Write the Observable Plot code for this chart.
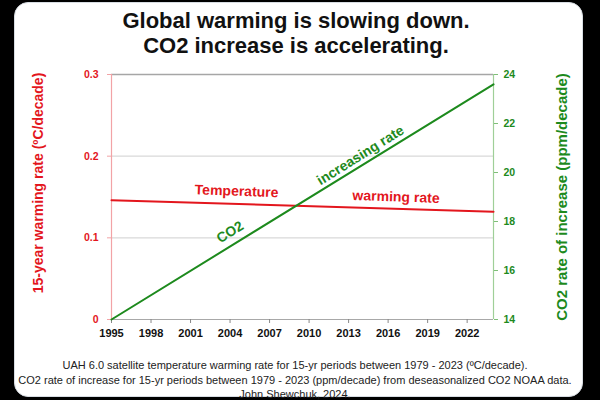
<!DOCTYPE html>
<html><head><meta charset="utf-8">
<script src="https://cdn.jsdelivr.net/npm/d3@7"></script>
<script src="https://cdn.jsdelivr.net/npm/@observablehq/plot@0.6"></script>
<style>
body{margin:0;background:#000;}
#wrap{position:relative;width:600px;height:400px;overflow:hidden;background:#000;font-family:"Liberation Sans",Arial,sans-serif;}
#card{position:absolute;left:14px;top:2px;width:567px;height:393px;background:#fff;border:1px solid #d8dde3;border-radius:14px;}
#title{position:absolute;left:-4px;width:600px;top:8px;text-align:center;font-size:22px;font-weight:bold;line-height:25px;color:#111;}
#chart{position:absolute;left:0;top:0;}
#caption{position:absolute;left:-5px;width:600px;top:358px;text-align:center;font-size:11px;line-height:14.5px;color:#222;white-space:nowrap;}
</style></head>
<body><div id="wrap"><div id="card"></div><div id="chart"></div>
<div id="title">Global warming is slowing down.<br>CO2 increase is accelerating.</div>
<div id="caption">UAH 6.0 satellite temperature warming rate for 15-yr periods between 1979 - 2023 (ºC/decade).<br>CO2 rate of increase for 15-yr periods between 1979 - 2023 (ppm/decade) from deseasonalized CO2 NOAA data.<br>John Shewchuk, 2024.</div>
</div>
<script>
const years = [1995, 2024];
const tempRate = [0.146, 0.132];
const co2Rate = [14.0, 23.6];
const xTicks = [1995, 1998, 2001, 2004, 2007, 2010, 2013, 2016, 2019, 2022];
const tempTicks = [0, 0.1, 0.2, 0.3];
const co2Ticks = [14, 16, 18, 20, 22, 24];
const leftTitle = "15-year warming rate (ºC/decade)";
const rightTitle = "CO2 rate of increase (ppm/decade)";

const RED = "#e3161d", GREEN = "#1d8a1d";
const co2Min = 14, co2Max = 24, tMax = 0.3;
const toY = c => (c - co2Min) / (co2Max - co2Min) * tMax;
const rows = years.map((y, i) => ({year: y, temp: tempRate[i], co2: toY(co2Rate[i])}));

const chart = Plot.plot({
  width: 600, height: 400,
  marginLeft: 111, marginRight: 107, marginTop: 74, marginBottom: 81,
  style: {fontFamily: "'Liberation Sans', Arial, sans-serif", background: "transparent"},
  x: {domain: [1995, 2024]},
  y: {domain: [0, 0.3]},
  marks: [
    Plot.ruleY([0.1, 0.2], {stroke: "#d9d9d9", strokeWidth: 1.2}),
    Plot.ruleY([0.3], {stroke: "#a6a6a6", strokeWidth: 1.5}),
    Plot.ruleY([0], {stroke: "#a8a8a8", strokeWidth: 1.2}),
    Plot.ruleX([1995], {stroke: "#f2a3a6", strokeWidth: 1.2}),
    Plot.ruleX([2024], {stroke: "#9fcf98", strokeWidth: 1.2}),
    Plot.axisX({ticks: xTicks, tickFormat: d => String(d), tickSize: 4, tickPadding: 6,
      fontSize: 11, fontWeight: "bold", color: "#111", stroke: "#888", label: null}),
    Plot.axisY({ticks: tempTicks, anchor: "left", tickFormat: d => d === 0 ? "0" : d.toFixed(1),
      tickSize: 4, tickPadding: 9, fontSize: 10.5, fontWeight: "bold", color: RED, stroke: "#f2a3a6", label: null}),
    Plot.axisY({ticks: co2Ticks.map(toY), anchor: "right",
      tickFormat: d => String(Math.round(co2Min + d / tMax * (co2Max - co2Min))),
      tickSize: 4, tickPadding: 6, fontSize: 10.5, fontWeight: "bold", color: GREEN, stroke: "#7fbf78", label: null}),
    Plot.line(rows, {x: "year", y: "temp", stroke: RED, strokeWidth: 2}),
    Plot.line(rows, {x: "year", y: "co2", stroke: GREEN, strokeWidth: 2}),
    Plot.text(["Temperature"], {x: 2004.5, y: 0.157, rotate: 2, fill: RED, fontSize: 14, fontWeight: "bold"}),
    Plot.text(["warming rate"], {x: 2016.6, y: 0.150, rotate: 2, fill: RED, fontSize: 14, fontWeight: "bold"}),
    Plot.text(["CO2"], {x: 2004.0, y: 0.107, rotate: -32, fill: GREEN, fontSize: 14, fontWeight: "bold"}),
    Plot.text(["increasing rate"], {x: 2013.9, y: 0.201, rotate: -32, fill: GREEN, fontSize: 14, fontWeight: "bold"}),
    Plot.text([leftTitle], {frameAnchor: "left", textAnchor: "middle", dx: -73, dy: -14, rotate: -90, fill: RED, fontSize: 14, fontWeight: "bold"}),
    Plot.text([rightTitle], {frameAnchor: "right", textAnchor: "middle", dx: 69, rotate: -90, fill: GREEN, fontSize: 15, fontWeight: "bold"})
  ]
});
document.getElementById("chart").appendChild(chart);
</script>
</body></html>
